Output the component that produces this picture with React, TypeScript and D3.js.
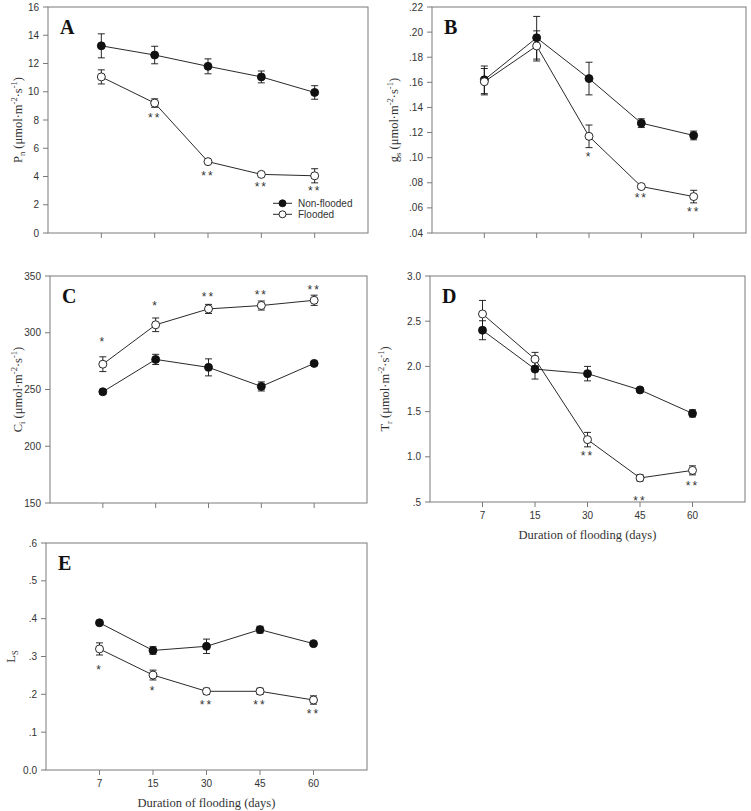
import React from 'react';
import * as d3 from 'd3';

// ---------- data ----------
const days = ['7', '15', '30', '45', '60'];

const pnNon = [13.25, 12.6, 11.8, 11.05, 9.95];
const pnNonErr = [0.85, 0.62, 0.53, 0.42, 0.48];
const pnFl = [11.05, 9.2, 5.05, 4.15, 4.05];
const pnFlErr = [0.5, 0.3, 0.08, 0.08, 0.5];
const pnStars = [['15', 8.37, '**'], ['30', 4.28, '**'], ['45', 3.5, '**'], ['60', 3.2, '**']];
const pnTicks = [0, 2, 4, 6, 8, 10, 12, 14, 16];
const pnTickLabels = ['0', '2', '4', '6', '8', '10', '12', '14', '16'];

const gsNon = [0.162, 0.1955, 0.163, 0.1275, 0.1177];
const gsNonErr = [0.011, 0.017, 0.013, 0.0035, 0.0035];
const gsFl = [0.1605, 0.189, 0.117, 0.077, 0.069];
const gsFlErr = [0.0105, 0.012, 0.009, 0.0015, 0.005];
const gsStars = [['30', 0.1028, '*'], ['45', 0.0703, '**'], ['60', 0.0592, '**']];
const gsTicks = [0.04, 0.06, 0.08, 0.1, 0.12, 0.14, 0.16, 0.18, 0.2, 0.22];
const gsTickLabels = ['.04', '.06', '.08', '.10', '.12', '.14', '.16', '.18', '.20', '.22'];

const ciNon = [248, 276.5, 269.5, 252.7, 273];
const ciNonErr = [2, 4.5, 7.5, 4, 1.5];
const ciFl = [272.3, 307, 321, 324, 328.6];
const ciFlErr = [6.5, 6, 4, 4, 4.5];
const ciStars = [['7', 294.8, '*'], ['15', 326, '*'], ['30', 334, '**'], ['45', 336, '**'], ['60', 340, '**']];
const ciTicks = [150, 200, 250, 300, 350];
const ciTickLabels = ['150', '200', '250', '300', '350'];

const trNon = [2.4, 1.97, 1.92, 1.74, 1.48];
const trNonErr = [0.105, 0.11, 0.08, 0.02, 0.04];
const trFl = [2.58, 2.08, 1.19, 0.766, 0.85];
const trFlErr = [0.15, 0.075, 0.08, 0.035, 0.05];
const trStars = [['30', 1.043, '**'], ['45', 0.544, '**'], ['60', 0.715, '**']];
const trTicks = [0.5, 1.0, 1.5, 2.0, 2.5, 3.0];
const trTickLabels = ['.5', '1.0', '1.5', '2.0', '2.5', '3.0'];

const lsNon = [0.389, 0.316, 0.327, 0.371, 0.334];
const lsNonErr = [0.004, 0.01, 0.019, 0.009, 0.003];
const lsFl = [0.32, 0.251, 0.208, 0.208, 0.185];
const lsFlErr = [0.016, 0.013, 0.008, 0.008, 0.011];
const lsStars = [['7', 0.273, '*'], ['15', 0.216, '*'], ['30', 0.179, '**'], ['45', 0.179, '**'], ['60', 0.157, '**']];
const lsTicks = [0, 0.1, 0.2, 0.3, 0.4, 0.5, 0.6];
const lsTickLabels = ['0.0', '.1', '.2', '.3', '.4', '.5', '.6'];

const legendLabels = ['Non-flooded', 'Flooded'];
const xTitle = 'Duration of flooding (days)';

// ---------- styles ----------
const SANS = '"Liberation Sans", Arial, Helvetica, sans-serif';
const SERIF = '"Liberation Serif", "Times New Roman", Times, serif';
const FRAME = '#7a7a7a';
const TEXT = '#333';
const INK = '#111';

type Title = { main: string; sub: string };

type PanelCfg = {
  letter: string;
  x0: number; x1: number; y0: number; y1: number;
  domain: [number, number];
  non: number[]; nonErr: number[];
  fl: number[]; flErr: number[];
  stars: (string | number)[][];
  ticks: number[]; tickLabels: string[];
  title: Title; titleX: number;
  showX: boolean; legend: boolean;
};

const panels: PanelCfg[] = [
  { letter: 'A', x0: 48, x1: 368, y0: 7, y1: 233, domain: [0, 16], non: pnNon, nonErr: pnNonErr, fl: pnFl, flErr: pnFlErr, stars: pnStars, ticks: pnTicks, tickLabels: pnTickLabels, title: { main: 'P', sub: 'n' }, titleX: 22, showX: false, legend: true },
  { letter: 'B', x0: 432, x1: 746, y0: 7, y1: 233, domain: [0.04, 0.22], non: gsNon, nonErr: gsNonErr, fl: gsFl, flErr: gsFlErr, stars: gsStars, ticks: gsTicks, tickLabels: gsTickLabels, title: { main: 'g', sub: 's' }, titleX: 398, showX: false, legend: false },
  { letter: 'C', x0: 50, x1: 367, y0: 276, y1: 503, domain: [150, 350], non: ciNon, nonErr: ciNonErr, fl: ciFl, flErr: ciFlErr, stars: ciStars, ticks: ciTicks, tickLabels: ciTickLabels, title: { main: 'C', sub: 'i' }, titleX: 22, showX: false, legend: false },
  { letter: 'D', x0: 430, x1: 745, y0: 276, y1: 502, domain: [0.5, 3.0], non: trNon, nonErr: trNonErr, fl: trFl, flErr: trFlErr, stars: trStars, ticks: trTicks, tickLabels: trTickLabels, title: { main: 'T', sub: 'r' }, titleX: 389, showX: true, legend: false },
  { letter: 'E', x0: 46, x1: 367, y0: 543, y1: 770, domain: [0, 0.6], non: lsNon, nonErr: lsNonErr, fl: lsFl, flErr: lsFlErr, stars: lsStars, ticks: lsTicks, tickLabels: lsTickLabels, title: { main: 'L', sub: 'S' }, titleX: 15, showX: true, legend: false },
];

function YTitle({ t, x, y, units }: { t: Title; x: number; y: number; units: boolean }) {
  return (
    <text transform={`translate(${x},${y}) rotate(-90)`} textAnchor="middle" fontFamily={SERIF} fontSize={12.5} fill={TEXT}>
      <tspan>{t.main}</tspan>
      <tspan fontSize={8.5} dy={3}>{t.sub}</tspan>
      {units && (
        <>
          <tspan dy={-3}>{' (\u03bcmol\u00b7m'}</tspan>
          <tspan fontSize={8.5} dy={-5}>{'-2'}</tspan>
          <tspan dy={5}>{'\u00b7s'}</tspan>
          <tspan fontSize={8.5} dy={-5}>{'-1'}</tspan>
          <tspan dy={5}>{')'}</tspan>
        </>
      )}
    </text>
  );
}

function Panel({ p }: { p: PanelCfg }) {
  const x = d3.scaleLinear().domain([0, 6]).range([p.x0, p.x1]);
  const xi = (d: string) => x(days.indexOf(d) + 1);
  const y = d3.scaleLinear().domain(p.domain).range([p.y1, p.y0]);
  const line = d3.line<number>().x((_, i) => x(i + 1)).y((v) => y(v));
  const cap = 3.5;
  const series = [
    { vals: p.non, errs: p.nonErr, fill: INK },
    { vals: p.fl, errs: p.flErr, fill: '#fff' },
  ];
  const cy = (p.y0 + p.y1) / 2;
  return (
    <g>
      <rect x={p.x0} y={p.y0} width={p.x1 - p.x0} height={p.y1 - p.y0} fill="none" stroke={FRAME} strokeWidth={1} />
      {p.ticks.map((t, i) => (
        <g key={'yt' + i}>
          <line x1={p.x0 - 5} x2={p.x0} y1={y(t)} y2={y(t)} stroke={FRAME} />
          <text x={p.x0 - 9} y={y(t)} dy="0.35em" textAnchor="end" fontFamily={SANS} fontSize={10} fill={TEXT}>{p.tickLabels[i]}</text>
        </g>
      ))}
      {days.map((d) => (
        <g key={'xt' + d}>
          <line x1={xi(d)} x2={xi(d)} y1={p.y1} y2={p.y1 + 5} stroke={FRAME} />
          {p.showX && (
            <text x={xi(d)} y={p.y1 + 17} textAnchor="middle" fontFamily={SANS} fontSize={10} fill={TEXT}>{d}</text>
          )}
        </g>
      ))}
      {p.showX && (
        <text x={(p.x0 + p.x1) / 2} y={p.y1 + 37} textAnchor="middle" fontFamily={SERIF} fontSize={12.5} fill={TEXT}>{xTitle}</text>
      )}
      <YTitle t={p.title} x={p.titleX} y={cy} units={p.letter !== 'E'} />
      <text x={p.x0 + 12} y={p.y0 + 27} fontFamily={SERIF} fontWeight="bold" fontSize={20} fill={INK}>{p.letter}</text>
      {series.map((s, si) => (
        <path key={'l' + si} d={line(s.vals) || ''} fill="none" stroke={INK} strokeWidth={0.9} />
      ))}
      {series.map((s, si) =>
        s.vals.map((v, i) => {
          const cx = x(i + 1);
          const top = y(v + s.errs[i]);
          const bot = y(v - s.errs[i]);
          return (
            <g key={'e' + si + '-' + i} stroke={INK} strokeWidth={0.9}>
              <line x1={cx} x2={cx} y1={top} y2={bot} />
              <line x1={cx - cap} x2={cx + cap} y1={top} y2={top} />
              <line x1={cx - cap} x2={cx + cap} y1={bot} y2={bot} />
            </g>
          );
        })
      )}
      {series.map((s, si) =>
        s.vals.map((v, i) => (
          <circle key={'m' + si + '-' + i} cx={x(i + 1)} cy={y(v)} r={4} fill={s.fill} stroke={INK} strokeWidth={0.9} />
        ))
      )}
      {p.stars.map((s, i) => (
        <text key={'s' + i} x={xi(s[0] as string)} y={y(s[1] as number) + 7} textAnchor="middle" fontFamily={SANS} fontSize={12} letterSpacing={2} fill={TEXT}>{s[2] as string}</text>
      ))}
      {p.legend &&
        legendLabels.map((lab, i) => {
          const ly = 203.3 + i * 11;
          return (
            <g key={'lg' + i}>
              <line x1={273} x2={292} y1={ly} y2={ly} stroke={INK} strokeWidth={0.9} />
              <circle cx={282.5} cy={ly} r={3.5} fill={i === 0 ? INK : '#fff'} stroke={INK} strokeWidth={0.9} />
              <text x={298} y={ly} dy="0.35em" fontFamily={SANS} fontSize={10} fill={TEXT}>{lab}</text>
            </g>
          );
        })}
    </g>
  );
}

export default function App() {
  return (
    <svg width={751} height={811} style={{ position: 'absolute', left: 0, top: 0, background: '#fff' }}>
      <rect x={0} y={0} width={751} height={811} fill="#fff" />
      {panels.map((p) => (
        <Panel key={p.letter} p={p} />
      ))}
    </svg>
  );
}
